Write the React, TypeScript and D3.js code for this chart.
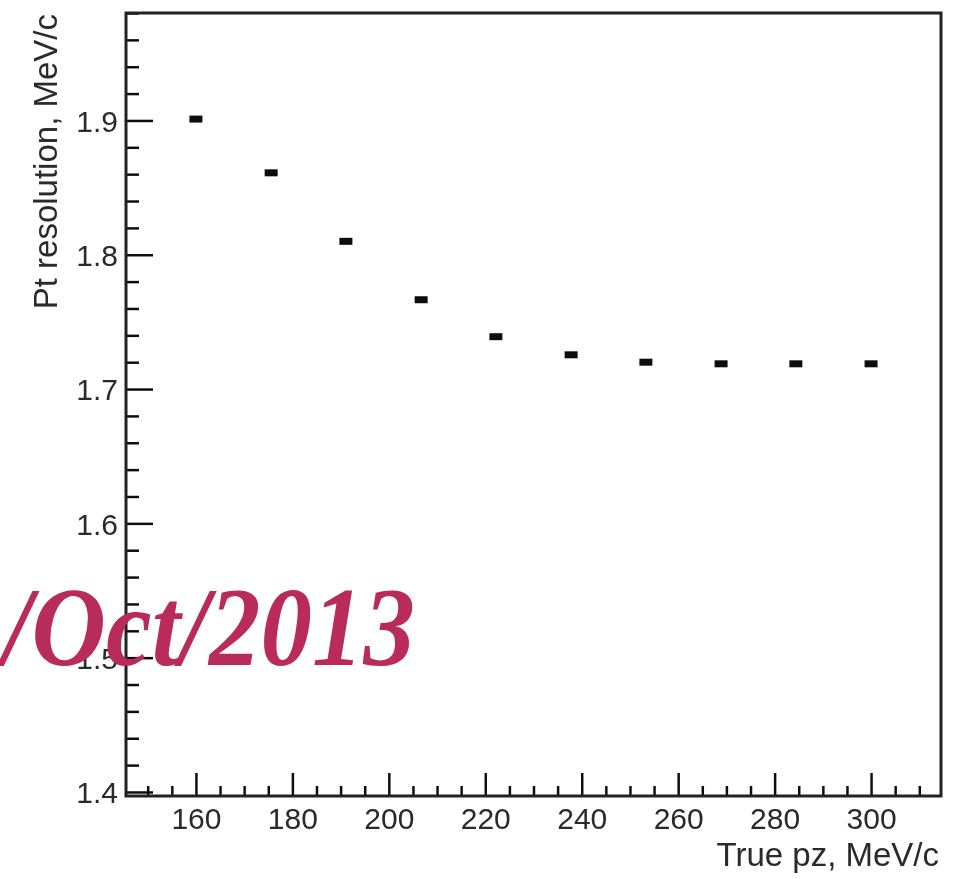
import { useEffect, useRef } from "react";
import * as d3 from "d3";

// true pz (MeV/c) and Pt resolution (MeV/c)
const pz = [160, 175.6, 191.1, 206.7, 222.2, 237.8, 253.3, 268.9, 284.4, 300];
const ptRes = [1.901, 1.861, 1.810, 1.7665, 1.739, 1.7255, 1.720, 1.7188, 1.7188, 1.7188];
const xMajor = [160, 180, 200, 220, 240, 260, 280, 300];
const yMajor = [1.4, 1.5, 1.6, 1.7, 1.8, 1.9];
const xLabel = "True pz, MeV/c";
const yLabel = "Pt resolution, MeV/c";
const stamp = "/Oct/2013";

const W = 953;
const H = 879;
const frame = { left: 126, right: 941, top: 13, bottom: 796 };

const App = () => {
  const ref = useRef<SVGSVGElement>(null);

  useEffect(() => {
    const svg = d3.select(ref.current);
    svg.selectAll("*").remove();

    const x = d3.scaleLinear().domain([145.5, 314.5]).range([frame.left, frame.right]);
    const y = d3.scaleLinear().domain([1.397, 1.980]).range([frame.bottom, frame.top]);

    svg.append("defs")
      .append("filter")
      .attr("id", "soft")
      .append("feGaussianBlur")
      .attr("stdDeviation", 0.7);

    const g = svg.append("g").attr("filter", "url(#soft)");

    g.append("rect")
      .attr("x", frame.left)
      .attr("y", frame.top)
      .attr("width", frame.right - frame.left)
      .attr("height", frame.bottom - frame.top)
      .attr("fill", "#fff");

    // minor ticks
    const xMinor = d3.range(150, 315, 5).filter((v) => !xMajor.includes(v));
    const yMinor = d3.range(1.4, 1.98, 0.02).filter((v) => !yMajor.some((m) => Math.abs(m - v) < 1e-6));

    const tickStyle = (sel: any) => {
      sel.select(".domain").remove();
      sel.selectAll("line").attr("stroke", "#111").attr("stroke-width", 2.5);
      sel.selectAll("text")
        .attr("fill", "#2a2a2a")
        .style("font-family", "'Liberation Sans', Arial, sans-serif")
        .style("font-size", "30px");
    };

    g.append("g")
      .attr("transform", `translate(0,${frame.bottom})`)
      .call(d3.axisBottom(x).tickValues(xMinor).tickSize(-10).tickFormat(() => ""))
      .call(tickStyle);
    g.append("g")
      .attr("transform", `translate(0,${frame.bottom})`)
      .call(d3.axisBottom(x).tickValues(xMajor).tickSize(-23).tickFormat(d3.format("d")))
      .call(tickStyle)
      .call((a) => a.selectAll("text").attr("y", 12));

    g.append("g")
      .attr("transform", `translate(${frame.left},0)`)
      .call(d3.axisLeft(y).tickValues(yMinor).tickSize(-13).tickFormat(() => ""))
      .call(tickStyle);
    g.append("g")
      .attr("transform", `translate(${frame.left},0)`)
      .call(d3.axisLeft(y).tickValues(yMajor).tickSize(-27).tickFormat(d3.format(".1f")))
      .call(tickStyle)
      .call((a) => a.selectAll("text").attr("x", -8).attr("dy", "0.36em"));

    // frame
    g.append("rect")
      .attr("x", frame.left)
      .attr("y", frame.top)
      .attr("width", frame.right - frame.left)
      .attr("height", frame.bottom - frame.top)
      .attr("fill", "none")
      .attr("stroke", "#222")
      .attr("stroke-width", 3);

    // points
    g.append("g")
      .selectAll("rect")
      .data(pz)
      .enter()
      .append("rect")
      .attr("x", (d) => x(d) - 6.5)
      .attr("y", (d, i) => y(ptRes[i]) - 3.5)
      .attr("width", 13)
      .attr("height", 7)
      .attr("fill", "#111");

    // axis titles
    g.append("text")
      .attr("x", frame.right - 2)
      .attr("y", 866)
      .attr("text-anchor", "end")
      .attr("fill", "#2a2a2a")
      .style("font-family", "'Liberation Sans', Arial, sans-serif")
      .style("font-size", "33px")
      .text(xLabel);
    g.append("text")
      .attr("transform", `translate(57,${frame.top + 1}) rotate(-90)`)
      .attr("text-anchor", "end")
      .attr("fill", "#2a2a2a")
      .style("font-family", "'Liberation Sans', Arial, sans-serif")
      .style("font-size", "33px")
      .text(yLabel);

    // date stamp over the plot
    svg.append("text")
      .attr("transform", "translate(415,665) scale(0.92,1)")
      .attr("text-anchor", "end")
      .attr("fill", "#b92b5a")
      .style("font-family", "'Liberation Serif', 'Times New Roman', serif")
      .style("font-weight", "bold")
      .style("font-style", "italic")
      .style("font-size", "112px")
      .text(stamp);
  }, []);

  return (
    <svg
      ref={ref}
      width={W}
      height={H}
      style={{ position: "absolute", left: 0, top: 0, background: "#fff" }}
    />
  );
};

export default App;
